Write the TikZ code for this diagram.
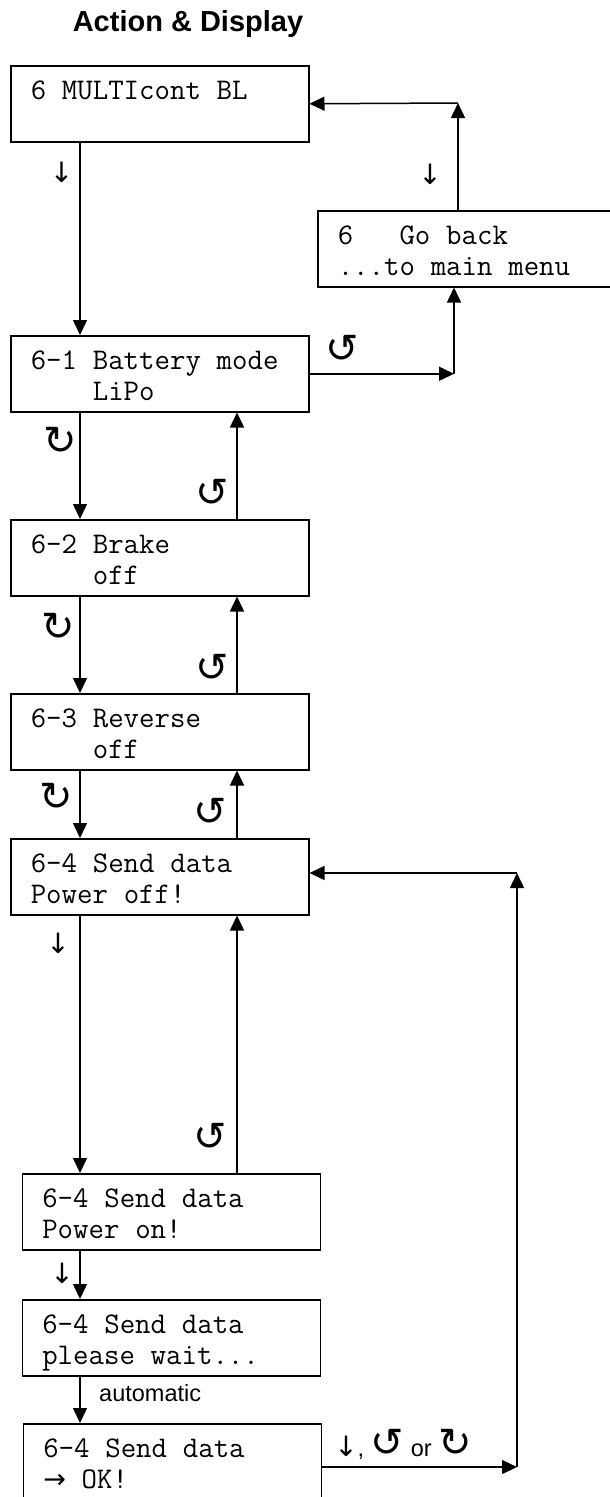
\documentclass[tikz,border=0pt]{standalone}
\usepackage{fontspec}
\setmainfont{Liberation Sans}
\newfontfamily\symfont{DejaVu Sans}
\usetikzlibrary{positioning,arrows.meta}
\newcommand\boxfont{\fontsize{30}{31}\selectfont\ttfamily\spaceskip=15.75pt\relax}
\tikzset{
  box/.style={draw, line width=1.5pt, anchor=north west, minimum height=76pt, text width=258pt, inner xsep=20pt, inner ysep=0pt, align=flush left, font=\boxfont, text height=24pt, text depth=32pt},
  arr/.style={-{Triangle[length=15pt,width=14pt]}, line width=1.5pt},
  sym/.style={font=\fontsize{28}{28}\selectfont\symfont, inner sep=0pt},
  rot/.style={font=\fontsize{40}{40}\selectfont\symfont, inner sep=0pt},
  lab/.style={font=\fontsize{23.5}{23.5}\selectfont, inner sep=0pt}
}

\begin{document}
\begin{tikzpicture}[x=1pt, y=-1pt]
\useasboundingbox (0,0) rectangle (610,1497);
\clip (0,0) rectangle (610,1497);
\node[lab, anchor=base, font=\fontsize{29}{29}\selectfont\bfseries] (title) at (188,31.5) {Action \& Display};
% menu boxes
\node[box] (mc) at (10,65) {6 MULTIcont BL};
\node[box, text width=256pt] (back) at (317,210) {6\hphantom{xxx}Go back\\...to main menu};
\node[box] (bat) at (10,335) {6-1 Battery mode\\\hphantom{6-1 }LiPo};
\node[box] (brake) at (10,519) {6-2 Brake\\\hphantom{6-2 }off};
\node[box] (rev) at (10,693) {6-3 Reverse\\\hphantom{6-3 }off};
\node[box] (offp) at (10,838) {6-4 Send data\\Power off!};
\node[box] (onp) at (21.5,1173) {6-4 Send data\\Power on!};
\node[box] (wait) at (21.5,1299) {6-4 Send data\\please wait...};
\node[box] (ok) at (22.5,1423) {6-4 Send data\\{\symfont\fontsize{27}{27}\selectfont →} OK!};
\coordinate (dn) at (80,0); \coordinate (up) at (237,0);
\coordinate (c1) at (458,103); \coordinate (c2) at (454,373);
\coordinate (c3) at (517,873); \coordinate (c4) at (517,1467);
% down / up chain
\draw[arr] (mc.south -| dn) -- (bat.north -| dn);
\draw[arr] (bat.south -| dn) -- (brake.north -| dn); \draw[arr] (brake.north -| up) -- (bat.south -| up);
\draw[arr] (brake.south -| dn) -- (rev.north -| dn); \draw[arr] (rev.north -| up) -- (brake.south -| up);
\draw[arr] (rev.south -| dn) -- (offp.north -| dn); \draw[arr] (offp.north -| up) -- (rev.south -| up);
\draw[arr] (offp.south -| dn) -- (onp.north -| dn); \draw[arr] (onp.north -| up) -- (offp.south -| up);
\draw[arr] (onp.south -| dn) -- (wait.north -| dn);
\draw[arr] (wait.south -| dn) -- (ok.north -| dn);
% go back loop
\draw[arr] (back.north -| c1) -- (c1); \draw[arr] (c1) -- (mc.east);
\draw[arr] (bat.east) -- (bat.east -| c2); \draw[arr] (bat.east -| c2) -- (back.south -| c2);
% return after sending
\draw[arr] (c4 -| ok.east) -- (c4); \draw[arr] (c4) -- (c3); \draw[arr] (c3) -- (c3 -| offp.east);
% key labels
\node[sym] (d1) at (61.5,172) {↓};
\node[sym] (d2) at (430,174) {↓};
\node[rot] (l1) at (342,349) {↺};
\node[rot] (r1) at (60,441) {↻};
\node[rot] (l2) at (212,493) {↺};
\node[rot] (r2) at (58,627) {↻};
\node[rot] (l3) at (212,668) {↺};
\node[rot] (r3) at (56,797) {↻};
\node[rot] (l4) at (210,812) {↺};
\node[sym] (d3) at (58,943) {↓};
\node[rot] (l5) at (210,1137) {↺};
\node[sym] (d4) at (62,1273) {↓};
\node[lab, anchor=base west] (auto) at (99,1401.5) {automatic};
\node[lab] (any) at (403,1444) {{\symfont\fontsize{28}{28}\selectfont ↓}, {\symfont\fontsize{40}{40}\selectfont ↺} or {\symfont\fontsize{40}{40}\selectfont ↻}};
\end{tikzpicture}
\end{document}
